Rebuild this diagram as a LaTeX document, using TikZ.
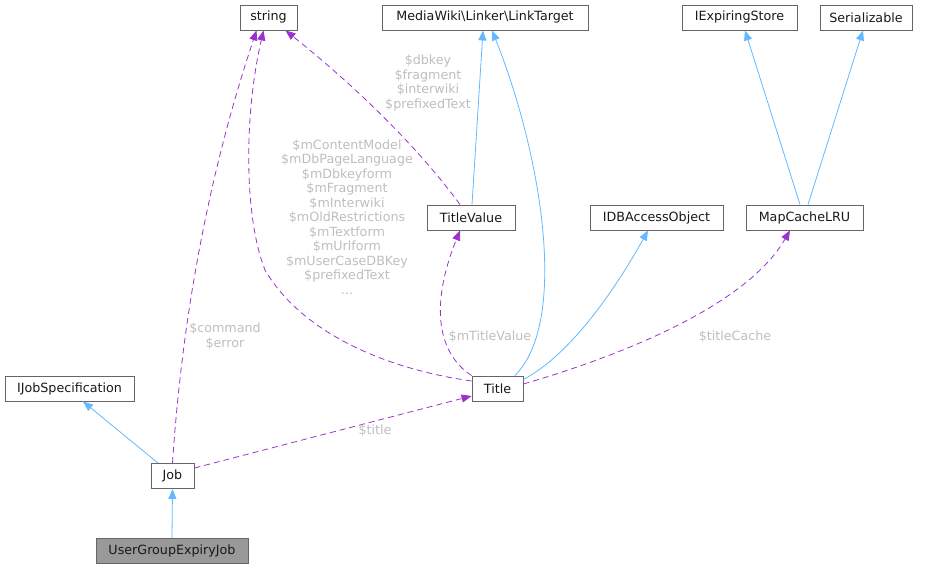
\documentclass[tikz,border=0pt]{standalone}
\usepackage{fontspec}
\setmainfont{DejaVu Sans}
\usetikzlibrary{arrows.meta}
\definecolor{edgeblue}{HTML}{63B8FF}
\definecolor{edgepurple}{HTML}{9A32CD}
\definecolor{boxgray}{HTML}{666666}
\definecolor{labelgray}{HTML}{BEBEBE}
\definecolor{fillgray}{HTML}{999999}
\begin{document}
\begin{tikzpicture}[x=1pt,y=-1pt,
 cls/.style={draw=boxgray, line width=0.9pt, fill=white, minimum height=25pt, inner sep=0pt, font=\fontsize{12.7}{14}\selectfont, text=black!90},
 inh/.style={draw=edgeblue, line width=0.8pt, -{Triangle[length=10pt,width=8pt]}},
 use/.style={draw=edgepurple, line width=0.8pt, dash pattern=on 6pt off 4pt, -{Triangle[length=10pt,width=8pt]}},
 lbl/.style={text=labelgray, font=\fontsize{12.7}{14.5}\selectfont, align=center, inner sep=0pt}]
\useasboundingbox (0,0) rectangle (925,569);

% nodes
\node[cls, minimum width=57pt]  (string) at (268.5,17.5) {string};
\node[cls, minimum width=206pt] (link)   at (485,17.5) {MediaWiki\textbackslash Linker\textbackslash LinkTarget};
\node[cls, minimum width=115pt] (iexp)   at (739.5,17.5) {IExpiringStore};
\node[cls, minimum width=92pt]  (ser)    at (866,17.5) {Serializable};
\node[cls, minimum width=88pt]  (tv)     at (471,217.5) {TitleValue};
\node[cls, minimum width=133pt] (idb)    at (656.5,217.5) {IDBAccessObject};
\node[cls, minimum width=117pt] (mcl)    at (804.5,217.5) {MapCacheLRU};
\node[cls, minimum width=129pt] (ijs)    at (69.5,388.5) {IJobSpecification};
\node[cls, minimum width=51pt]  (title)  at (497.5,388.5) {Title};
\node[cls, minimum width=43pt]  (job)    at (172.5,476) {Job};
\node[cls, minimum width=152pt, fill=fillgray] (ugej) at (172,551) {UserGroupExpiryJob};

% inheritance edges
\draw[inh] (ugej.north) -- (job.south);
\draw[inh] ([xshift=-14.5pt]job.north) -- ([xshift=13.5pt]ijs.south);
\draw[inh] ([xshift=1pt]tv.north) -- ([xshift=-2pt]link.south);
\draw[inh] ([xshift=17.5pt]title.north) .. controls (570,320) and (540,150) .. ([xshift=7pt]link.south);
\draw[inh] ([yshift=9pt]title.east) .. controls (570,355) and (615,290) .. ([xshift=-8.5pt]idb.south);
\draw[inh] ([xshift=-4.5pt]mcl.north) -- ([xshift=5.5pt]iexp.south);
\draw[inh] ([xshift=3.5pt]mcl.north) -- ([xshift=-3pt]ser.south);

% usage edges
\draw[use] (job.north) .. controls (180,350) and (200,200) .. ([xshift=-12pt]string.south);
\draw[use] ([yshift=7.5pt]title.west) .. controls (380,368) and (300,330) .. (265,270)
   .. controls (245,220) and (243,120) .. ([xshift=-5pt]string.south);
\draw[use] ([xshift=-11pt]tv.north) .. controls (420,150) and (360,90) .. ([xshift=17pt]string.south);
\draw[use] (title.north west) .. controls (440,355) and (428,310) .. ([xshift=-11pt]tv.south);
\draw[use] ([yshift=4.5pt]title.east) .. controls (640,350) and (750,300) .. ([xshift=-14.5pt]mcl.south);
\draw[use] ([yshift=8pt]job.east) -- ([yshift=-7.5pt]title.west);

% labels
\node[lbl] (l1) at (428,83) {\$dbkey\\\$fragment\\\$interwiki\\\$prefixedText};
\node[lbl] (l2) at (347,217) {\$mContentModel\\\$mDbPageLanguage\\\$mDbkeyform\\\$mFragment\\\$mInterwiki\\\$mOldRestrictions\\\$mTextform\\\$mUrlform\\\$mUserCaseDBKey\\\$prefixedText\\...};
\node[lbl] (l3) at (225,336) {\$command\\\$error};
\node[lbl] (l4) at (490,337) {\$mTitleValue};
\node[lbl] (l5) at (735,337) {\$titleCache};
\node[lbl] (l6) at (375,431) {\$title};
\end{tikzpicture}
\end{document}
